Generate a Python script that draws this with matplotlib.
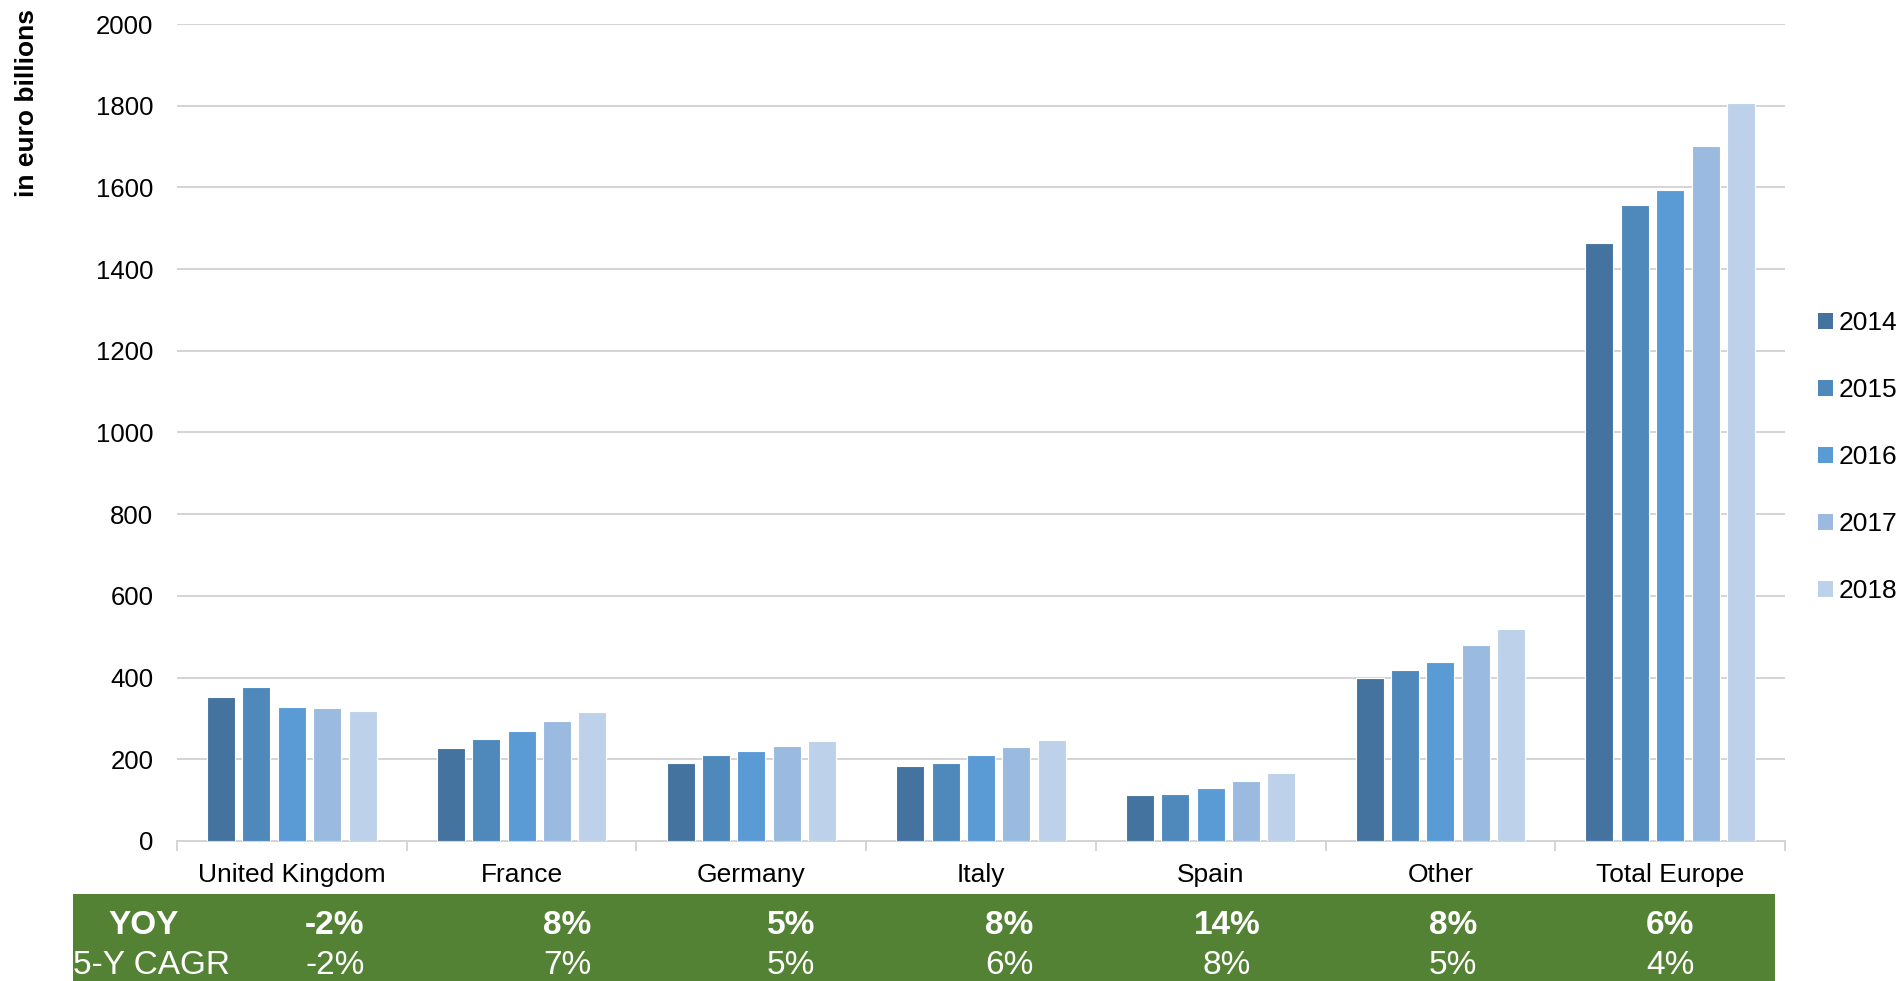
import numpy as np
import matplotlib
matplotlib.use("Agg")
import matplotlib.pyplot as plt
from matplotlib.patches import Patch, Rectangle

plt.rcParams['font.family'] = ['Liberation Sans', 'DejaVu Sans']

regions = ["United Kingdom", "France", "Germany", "Italy", "Spain", "Other", "Total Europe"]
years = ["2014", "2015", "2016", "2017", "2018"]
v2014 = [352, 228, 191, 183, 113, 400, 1463]
v2015 = [378, 250, 210, 192, 115, 419, 1558]
v2016 = [328, 270, 221, 210, 130, 439, 1593]
v2017 = [325, 293, 233, 229, 147, 480, 1702]
v2018 = [319, 315, 246, 248, 167, 520, 1807]
yoy = ["-2%", "8%", "5%", "8%", "14%", "8%", "6%"]
cagr = ["-2%", "7%", "5%", "6%", "8%", "5%", "4%"]

colors = ["#44739F", "#4F89BC", "#5B9BD5", "#9ABADF", "#BDD1EA"]
series = [v2014, v2015, v2016, v2017, v2018]

W, H = 1903, 981
fig = plt.figure(figsize=(W / 100, H / 100), dpi=100)
ax = fig.add_axes([177 / W, 1 - 841 / H, (1785 - 177) / W, (841 - 24) / H])

x = np.arange(len(regions))
pitch = 0.154
bw = 0.122
for i, (vals, c) in enumerate(zip(series, colors)):
    ax.bar(x + (i - 2) * pitch, vals, width=bw, color=c, edgecolor="white",
           linewidth=0.8, zorder=3)

ax.set_xlim(-0.5, len(regions) - 0.5)
ax.set_ylim(0, 2000)
ax.set_yticks(np.arange(0, 2001, 200))
ax.yaxis.grid(True, color="#D4D4D4", linewidth=1.4, zorder=0)
ax.tick_params(axis="y", length=0, pad=17, labelsize=18.5)
ax.set_xticks(x)
ax.set_xticklabels(regions)
ax.tick_params(axis="x", which="major", length=0, pad=16, labelsize=19)
ax.set_xticks(np.arange(-0.5, len(regions), 1), minor=True)
ax.tick_params(axis="x", which="minor", length=7, width=1.4, color="#D4D4D4")
for s in ["top", "right", "left"]:
    ax.spines[s].set_visible(False)
ax.spines["bottom"].set_color("#D4D4D4")
ax.spines["bottom"].set_linewidth(1.4)

fig.text(27 / W, 1 - 103 / H, "in euro billions", rotation=90, ha="center",
         va="center", fontsize=19, fontweight="bold")

handles = [Patch(facecolor=c, edgecolor="none") for c in colors]
fig.legend(handles, years, loc="center left", bbox_to_anchor=(1818 / W, 1 - 457 / H),
           frameon=False, fontsize=19, handlelength=0.55, handleheight=0.55,
           handletextpad=0.25, labelspacing=1.63, borderpad=0, borderaxespad=0)

# green summary band
fig.patches.append(Rectangle((73 / W, 0), (1775 - 73) / W, 1 - 894 / H,
                             transform=fig.transFigure, facecolor="#548235",
                             edgecolor="none"))
narrow = ['Liberation Sans Narrow', 'Liberation Sans', 'DejaVu Sans']
col_x = [335, 567, 791, 1009, 1227, 1453, 1670]
y_yoy = 1 - 925 / H
y_cagr = 1 - 966 / H
fig.text(144 / W, y_yoy, "YOY", ha="center", va="center", color="white",
         fontsize=24, fontweight="bold", family=narrow)
fig.text(73 / W, y_cagr, "5-Y CAGR", ha="left", va="center", color="white",
         fontsize=24, family=narrow)
for cx, a, b in zip(col_x, yoy, cagr):
    fig.text(cx / W, y_yoy, a, ha="center", va="center", color="white",
             fontsize=24, fontweight="bold", family=narrow)
    fig.text(cx / W, y_cagr, b, ha="center", va="center", color="white",
             fontsize=24, family=narrow)

fig.savefig("out.png", dpi=100)
